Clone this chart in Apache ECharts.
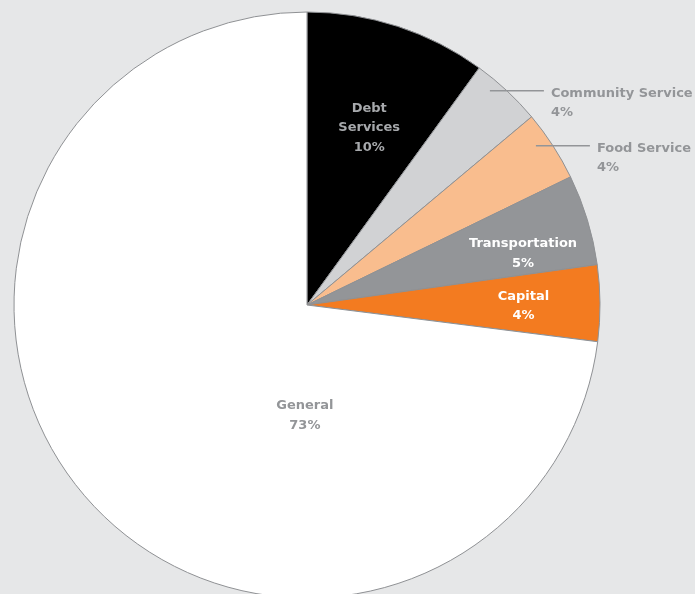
<!DOCTYPE html>
<html>
<head>
<meta charset="utf-8">
<script src="https://cdn.jsdelivr.net/npm/echarts@6/dist/echarts.min.js"></script>
<style>
html, body { margin: 0; padding: 0; background: #e6e7e8; }
#chart { width: 695px; height: 594px; }
</style>
</head>
<body>
<div id="chart"></div>
<script>
// budget shares, clockwise from 12 o'clock
var categories = ['Debt\nServices', 'Community Service', 'Food Service', 'Transportation', 'Capital', 'General'];
var shares = [10.0, 3.9, 3.9, 5.0, 4.2, 73.0];
var shareLabels = ['10%', '4%', '4%', '5%', '4%', '73%'];

var colors = ['#000000', '#d1d2d4', '#f9bd8e', '#939598', '#f37b20', '#ffffff'];
var labelColors = ['#a7a9ac', '#939598', '#939598', '#ffffff', '#ffffff', '#939598'];
// nudges for labels drawn inside the slice
var insideOffsets = {
    0: [16, -35],
    3: [73, -8],
    4: [67, 2],
    5: [110, 12]
};
var outsideIdx = [1, 2];

var chart = echarts.init(document.getElementById('chart'));

var center = [307, 305];
var radius = 293;

var labelBase = {
    fontFamily: 'DejaVu Sans',
    fontWeight: 'bold',
    fontSize: 13,
    lineHeight: 19.5,
    formatter: function(p) {
        return p.name + '\n' + shareLabels[p.dataIndex];
    }
};

// slices with the inside labels
var pieData = categories.map(function(name, i) {
    var inside = outsideIdx.indexOf(i) < 0;
    return {
        name: name,
        value: shares[i],
        itemStyle: { color: colors[i] },
        label: {
            show: inside,
            position: 'inside',
            color: labelColors[i],
            offset: inside ? insideOffsets[i] : [0, 0]
        }
    };
});

// transparent copy on top, only carries the callout labels + lines
var calloutData = categories.map(function(name, i) {
    var outside = outsideIdx.indexOf(i) >= 0;
    return {
        name: name,
        value: shares[i],
        label: { show: outside, color: labelColors[i] },
        labelLine: { show: outside }
    };
});

function midAngle(idx) {
    var acc = 0, total = 0;
    for (var i = 0; i < shares.length; i++) total += shares[i];
    for (var j = 0; j < idx; j++) acc += shares[j];
    return (acc + shares[idx] / 2) / total * Math.PI * 2;
}

var option = {
    backgroundColor: '#e6e7e8',
    animation: false,
    series: [{
        type: 'pie',
        z: 2,
        center: center,
        radius: radius,
        startAngle: 90,
        clockwise: true,
        avoidLabelOverlap: false,
        itemStyle: {
            borderColor: '#8f9194',
            borderWidth: 1
        },
        label: labelBase,
        labelLine: { show: false },
        data: pieData
    }, {
        type: 'pie',
        z: 3,
        silent: true,
        center: center,
        radius: radius,
        startAngle: 90,
        clockwise: true,
        avoidLabelOverlap: false,
        itemStyle: { color: 'rgba(0,0,0,0)', borderWidth: 0 },
        label: echarts.util.extend({ position: 'outside', align: 'left' }, labelBase),
        labelLine: {
            lineStyle: { color: '#939598', width: 1.5 },
            length: 10,
            length2: 20
        },
        labelLayout: function(params) {
            if (outsideIdx.indexOf(params.dataIndex) < 0) return {};
            // edge point at the slice's mid angle
            var mid = midAngle(params.dataIndex);
            var ex = center[0] + radius * Math.sin(mid);
            var ey = center[1] - radius * Math.cos(mid);
            return {
                x: ex + 44,
                y: ey + 12.5,
                align: 'left',
                verticalAlign: 'middle',
                labelLinePoints: [[ex - 17, ey], [ex + 10, ey], [ex + 37, ey]]
            };
        },
        data: calloutData
    }]
};
chart.setOption(option);
</script>
</body>
</html>
